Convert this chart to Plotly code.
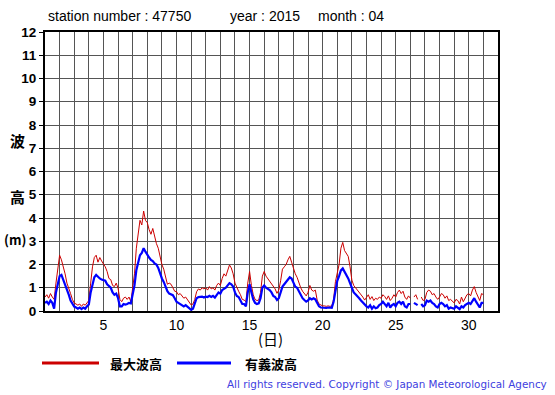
import plotly.graph_objects as go

# 3-hourly readings per day (hours 0,3,6,...,21), April 2015, station 47750
max_wave = [
    [0.6, 0.7, 0.55, 0.75, 0.6, 0.5, 1.2, 1.9],      # 1
    [2.4, 2.2, 1.95, 1.6, 1.2, 1.0, 0.75, 0.5],      # 2
    [0.34, 0.3, 0.25, 0.3, 0.2, 0.3, 0.25, 0.35],    # 3
    [0.45, 1.2, 1.9, 2.3, 2.4, 2.1, 2.3, 2.15],      # 4
    [2.05, 1.9, 1.7, 1.4, 1.35, 1.1, 1.05, 1.2],     # 5
    [0.98, 0.5, 0.4, 0.55, 0.6, 0.5, 0.6, 0.4],      # 6
    [1.0, 1.6, 2.7, 3.3, 3.9, 3.7, 4.3, 3.9],        # 7
    [3.8, 3.5, 3.3, 3.55, 3.2, 2.9, 2.7, 2.3],       # 8
    [2.0, 1.8, 1.4, 1.15, 1.2, 1.15, 1.0, 0.85],     # 9
    [0.83, 0.7, 0.75, 0.65, 0.55, 0.6, 0.5, 0.4],    # 10
    [0.26, 0.3, 0.5, 0.83, 0.95, 0.9, 1.0, 0.95],    # 11
    [1.0, 0.9, 1.05, 0.95, 1.0, 0.9, 1.1, 1.2],      # 12
    [1.1, 1.4, 1.6, 1.5, 1.8, 1.98, 1.85, 1.6],      # 13
    [1.2, 1.0, 0.85, 0.7, 0.5, 0.47, 0.4, 1.2],      # 14
    [1.7, 1.1, 0.7, 0.5, 0.45, 0.47, 0.8, 1.5],      # 15
    [1.7, 1.5, 1.4, 1.3, 1.2, 1.05, 0.95, 0.76],     # 16
    [0.9, 1.3, 1.8, 1.9, 2.0, 2.2, 2.35, 2.1],       # 17
    [1.8, 1.6, 1.45, 1.2, 1.0, 0.85, 0.76, 0.65],    # 18
    [0.8, 1.1, 0.9, 0.85, 0.9, 0.47, 0.3, 0.25],     # 19
    [0.22, 0.22, 0.2, 0.22, 0.2, 0.22, 0.5, 1.26],   # 20
    [1.6, 2.0, 2.7, 2.95, 2.6, 2.5, 2.35, 1.9],      # 21
    [1.33, 1.1, 1.0, 0.9, 0.85, 0.7, 0.6, 0.47],     # 22
    [0.6, 0.7, 0.5, 0.62, 0.45, 0.55, 0.5, 0.6],     # 23
    [0.55, 0.7, 0.62, 0.5, 0.65, 0.45, 0.55, 0.7],   # 24
    [0.6, 0.8, 0.9, 0.75, 0.85, 0.6, 0.5, 0.65],     # 25
    [0.55, None, 0.6, 0.7, 0.5, None, 0.6, 0.45],    # 26
    [0.5, 0.8, 0.9, 0.85, 0.7, 0.75, 0.6, 0.5],      # 27
    [0.6, 0.75, 0.7, 0.55, 0.65, 0.45, 0.5, 0.4],    # 28
    [0.35, 0.5, 0.45, 0.3, 0.6, 0.4, 0.55, 0.7],     # 29
    [0.75, 0.65, 0.9, 1.05, 0.8, 0.6, 0.45, 0.75],   # 30
    [0.7],                                           # 31 (00h)
]

sig_wave = [
    [0.35, 0.4, 0.3, 0.45, 0.35, 0.1, 0.8, 1.1],
    [1.5, 1.55, 1.35, 1.15, 0.9, 0.7, 0.45, 0.3],
    [0.19, 0.15, 0.1, 0.15, 0.08, 0.15, 0.1, 0.2],
    [0.28, 0.8, 1.2, 1.45, 1.55, 1.45, 1.4, 1.35],
    [1.33, 1.3, 1.15, 1.05, 1.0, 0.8, 0.7, 0.75],
    [0.55, 0.2, 0.2, 0.3, 0.28, 0.3, 0.35, 0.33],
    [0.7, 1.1, 1.75, 2.1, 2.4, 2.5, 2.7, 2.55],
    [2.4, 2.3, 2.2, 2.15, 2.05, 2.0, 1.85, 1.6],
    [1.4, 1.25, 1.0, 0.85, 0.75, 0.7, 0.68, 0.55],
    [0.4, 0.35, 0.3, 0.25, 0.2, 0.25, 0.19, 0.15],
    [0.05, 0.1, 0.3, 0.55, 0.6, 0.6, 0.62, 0.58],
    [0.62, 0.6, 0.65, 0.6, 0.65, 0.58, 0.7, 0.8],
    [0.75, 0.9, 0.95, 1.0, 1.1, 1.2, 1.15, 1.05],
    [0.8, 0.65, 0.6, 0.45, 0.3, 0.3, 0.2, 0.8],
    [1.15, 0.8, 0.5, 0.35, 0.3, 0.33, 0.55, 1.0],
    [1.1, 1.0, 0.95, 0.9, 0.8, 0.65, 0.6, 0.47],
    [0.55, 0.8, 1.05, 1.15, 1.25, 1.35, 1.45, 1.4],
    [1.2, 1.05, 1.0, 0.85, 0.7, 0.55, 0.47, 0.4],
    [0.45, 0.55, 0.5, 0.55, 0.5, 0.33, 0.2, 0.15],
    [0.14, 0.14, 0.13, 0.15, 0.13, 0.14, 0.4, 0.9],
    [1.3, 1.5, 1.75, 1.83, 1.7, 1.55, 1.4, 1.2],
    [0.97, 0.8, 0.72, 0.65, 0.55, 0.45, 0.35, 0.26],
    [0.2, 0.15, 0.25, 0.1, 0.2, 0.12, 0.15, 0.25],
    [0.3, 0.4, 0.3, 0.2, 0.35, 0.15, 0.25, 0.3],
    [0.2, 0.35, 0.4, 0.3, 0.4, 0.2, 0.15, 0.3],
    [0.3, None, 0.35, 0.3, 0.25, None, 0.3, 0.2],
    [0.25, 0.45, 0.4, 0.45, 0.35, 0.3, 0.2, 0.15],
    [0.3, 0.35, 0.3, 0.2, 0.25, 0.1, 0.15, 0.12],
    [0.1, 0.2, 0.15, 0.08, 0.2, 0.15, 0.25, 0.3],
    [0.35, 0.3, 0.45, 0.55, 0.4, 0.25, 0.15, 0.35],
    [0.35],
]

x_ticks = [5, 10, 15, 20, 25, 30]
y_ticks = list(range(0, 13))
title_parts = ["station number : 47750", "year : 2015", "month : 04"]
legend_names = ["最大波高", "有義波高"]
copyright_text = "All rights reserved. Copyright © Japan Meteorological Agency"


def flatten(rows):
    xs, ys = [], []
    for d, row in enumerate(rows, start=1):
        for k, v in enumerate(row):
            xs.append(d + k * 3 / 24)
            ys.append(v)
    return xs, ys


xr, yr = flatten(max_wave)
xb, yb = flatten(sig_wave)

RED = "#cc0000"
BLUE = "#0000ff"
W, H = 555, 395
L, R, T, B = 45, 57, 32, 84
pw, ph = W - L - R, H - T - B

fig = go.Figure()
fig.add_trace(go.Scatter(x=xr, y=yr, mode="lines", line=dict(color=RED, width=1),
                         connectgaps=False, showlegend=False, name=legend_names[0]))
fig.add_trace(go.Scatter(x=xb, y=yb, mode="lines", line=dict(color=BLUE, width=2.2),
                         connectgaps=False, showlegend=False, name=legend_names[1]))

day_vals = list(range(1, 33))
fig.update_xaxes(range=[1, 32], tickmode="array", tickvals=day_vals,
                 ticktext=[str(d) if d in x_ticks else "" for d in day_vals],
                 showgrid=True, gridcolor="#555555", gridwidth=1,
                 showline=True, linecolor="black", linewidth=2, mirror=True,
                 ticks="", zeroline=False, automargin=False,
                 tickfont=dict(family="Liberation Sans, Arial", size=14, color="black"))
fig.update_yaxes(range=[0, 12], tickmode="array", tickvals=y_ticks,
                 showgrid=True, gridcolor="#555555", gridwidth=1,
                 showline=True, linecolor="black", linewidth=2, mirror=True,
                 ticks="outside", ticklen=4, tickcolor="black", zeroline=False, automargin=False,
                 tickfont=dict(family="Liberation Sans, Arial", size=13.5, color="black",
                               weight="bold"))


def px(x):
    return (x - L) / pw


def py(y):
    return (H - B - y) / ph


title_font = dict(family="Liberation Sans, Arial", size=14, color="black")
annos = [
    dict(text=title_parts[0], x=px(46), y=py(16), xanchor="left", yanchor="middle", font=title_font),
    dict(text=title_parts[1], x=px(228), y=py(16), xanchor="left", yanchor="middle", font=title_font),
    dict(text=title_parts[2], x=px(316), y=py(16), xanchor="left", yanchor="middle", font=title_font),
    dict(text="波", x=px(17), y=py(140), xanchor="center", yanchor="middle",
         font=dict(family="Noto Sans CJK JP", size=15, color="black", weight="bold")),
    dict(text="高", x=px(17), y=py(196), xanchor="center", yanchor="middle",
         font=dict(family="Noto Sans CJK JP", size=15, color="black", weight="bold")),
    dict(text="(m)", x=px(15), y=py(239), xanchor="center", yanchor="middle",
         font=dict(family="Noto Sans CJK JP", size=13, color="black", weight="bold")),
    dict(text="(日)", x=px(270), y=py(338), xanchor="center", yanchor="middle",
         font=dict(family="Noto Sans CJK JP", size=15, color="black")),
    dict(text=legend_names[0], x=px(108), y=py(363), xanchor="left", yanchor="middle",
         font=dict(family="Noto Sans CJK JP", size=13, color="black", weight="bold")),
    dict(text=legend_names[1], x=px(243), y=py(363), xanchor="left", yanchor="middle",
         font=dict(family="Noto Sans CJK JP", size=13, color="black", weight="bold")),
    dict(text=copyright_text, x=px(549), y=py(384), xanchor="right", yanchor="middle",
         font=dict(family="DejaVu Sans, Verdana", size=10.4, color="#4040e0")),
]
for a in annos:
    a.update(xref="paper", yref="paper", showarrow=False)
fig.update_layout(annotations=annos)

fig.add_shape(type="line", xref="paper", yref="paper", x0=px(42), x1=px(99), y0=py(363), y1=py(363),
              line=dict(color=RED, width=3))
fig.add_shape(type="line", xref="paper", yref="paper", x0=px(177), x1=px(231), y0=py(363), y1=py(363),
              line=dict(color=BLUE, width=3))

fig.update_layout(width=W, height=H, margin=dict(l=L, r=R, t=T, b=B, autoexpand=False),
                  plot_bgcolor="white", paper_bgcolor="white", showlegend=False)

fig.write_html("out.html", config={"displayModeBar": False},
               post_script="document.body.style.margin='0';document.body.style.padding='0';"
                           "document.body.style.overflow='hidden';")
